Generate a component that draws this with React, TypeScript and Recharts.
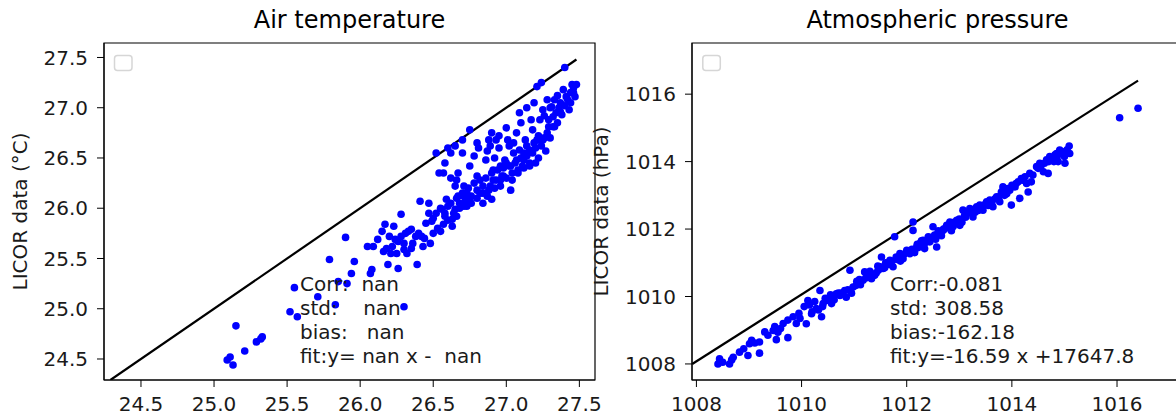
import { ReferenceArea, ReferenceLine, Scatter, ScatterChart, XAxis, YAxis } from 'recharts'

// air temperature: reference (x) vs LICOR (y), °C
const airRef = [
  25.09, 25.11, 25.13, 25.15, 25.21, 25.29, 25.32, 25.33, 25.52, 25.57, 25.55, 25.71, 25.83, 25.79, 25.85,
  25.91, 25.96, 25.94, 25.90, 26.05, 26.09, 26.07, 26.08, 26.12, 26.15, 26.17, 26.23, 26.16, 26.19, 26.26,
  26.28, 26.30, 26.39, 26.41, 26.47, 26.43, 26.48, 26.52, 26.54, 26.22, 26.24, 26.26, 26.28, 26.31, 26.33,
  26.35, 26.38, 26.21, 26.25, 26.30, 26.32, 26.35, 26.42, 26.49, 26.52, 26.56, 26.58, 26.60, 26.63, 26.65,
  26.50, 26.55, 26.57, 26.63, 26.66, 26.68, 26.71, 26.73, 26.75, 26.66, 26.65, 26.67, 26.71, 26.75, 26.78,
  26.80, 26.80, 26.81, 26.82, 26.84, 26.86, 26.87, 26.88, 26.89, 26.90, 26.91, 26.92, 26.93, 26.95, 26.96,
  26.97, 26.98, 26.99, 27.00, 27.01, 27.03, 27.04, 27.05, 27.07, 27.08, 27.09, 27.11, 27.12, 27.13, 27.14,
  27.15, 27.16, 27.17, 27.19, 27.20, 27.21, 27.22, 27.23, 27.24, 27.25, 27.27, 27.28, 27.29, 27.30, 27.31,
  27.32, 27.33, 27.35, 27.36, 27.37, 27.38, 27.39, 27.40, 27.41, 27.43, 27.44, 27.45, 27.46, 27.47, 27.48,
  27.37, 27.33, 27.29, 27.25, 27.21, 27.16, 27.12, 27.07, 27.03, 26.98, 26.93, 26.89, 26.87, 26.84, 27.00,
  27.05, 27.09, 27.14, 27.19, 27.23, 27.28, 27.32, 26.91, 26.96, 26.80, 26.76, 26.73, 26.71, 26.67, 26.59,
  26.75, 26.70, 26.62, 26.57,
  26.45, 26.47, 26.50, 26.53, 26.55, 26.58, 26.60, 26.62, 26.64, 26.66, 26.68, 26.70, 26.72, 26.74, 26.76,
  26.78, 26.80, 26.82, 26.84, 26.86, 26.88, 26.90, 26.92, 26.94, 26.96, 26.98, 27.00, 27.02, 27.04, 27.06,
  27.08, 27.10, 27.12, 27.14, 27.16, 27.18, 27.20, 27.22, 27.24, 27.26, 26.60, 26.65, 26.70, 26.58, 26.62,
  26.90, 26.95, 27.02, 27.10, 27.18, 27.26, 27.34, 27.40, 27.42, 27.44, 27.46, 27.35, 27.30, 26.40, 26.44,
  26.36, 26.30, 26.20, 26.18,
]
const airLicor = [
  24.49, 24.52, 24.44, 24.83, 24.58, 24.67, 24.70, 24.72, 24.97, 24.92, 25.21, 25.12, 25.04, 25.49, 25.27,
  25.25, 25.47, 25.35, 25.71, 25.62, 25.62, 25.35, 25.39, 25.69, 25.77, 25.84, 25.82, 25.57, 25.44, 25.40,
  25.94, 25.02, 25.44, 26.07, 26.05, 25.62, 25.65, 26.55, 26.35, 25.62, 25.69, 25.67, 25.72, 25.75, 25.77,
  25.79, 25.72, 25.55, 25.55, 25.59, 25.55, 25.60, 25.72, 25.87, 25.95, 25.99, 25.92, 26.02, 25.89, 25.99,
  25.75, 25.77, 25.84, 25.82, 25.92, 26.05, 26.12, 26.02, 26.09, 26.28, 26.22, 26.35, 26.22, 26.42, 26.52,
  26.32, 26.65, 26.60, 26.15, 26.22, 26.48, 26.57, 26.68, 26.62, 26.09, 26.28, 26.50, 26.68, 26.72, 26.22,
  26.32, 26.42, 26.48, 26.80, 26.68, 26.18, 26.28, 26.65, 26.75, 26.35, 26.95, 26.42, 26.48, 26.68, 27.00,
  26.55, 26.42, 26.88, 27.05, 26.45, 27.21, 26.72, 26.88, 27.25, 26.98, 26.57, 27.08, 26.81, 26.70, 27.01,
  26.91, 27.08, 26.85, 27.00, 27.05, 26.93, 27.18, 27.40, 27.11, 26.98, 27.15, 27.23, 27.20, 27.11, 27.23,
  26.96, 26.81, 26.88, 26.68, 26.68, 26.58, 26.55, 26.48, 26.42, 26.32, 26.28, 26.22, 26.12, 26.05, 26.45,
  26.55, 26.58, 26.62, 26.65, 26.68, 26.75, 26.81, 26.38, 26.42, 26.18, 26.12, 26.15, 26.02, 26.12, 26.09,
  26.78, 26.55, 26.30, 26.35,
  25.85, 25.95, 25.90, 25.80, 26.00, 25.95, 25.88, 26.05, 25.95, 26.10, 26.00, 26.15, 26.08, 26.20, 26.05,
  26.25, 26.10, 26.28, 26.15, 26.30, 26.18, 26.35, 26.20, 26.38, 26.28, 26.40, 26.30, 26.42, 26.35, 26.45,
  26.38, 26.50, 26.40, 26.52, 26.45, 26.55, 26.60, 26.50, 26.62, 26.70, 26.60, 26.62, 26.68, 26.45, 26.55,
  26.75, 26.60, 26.62, 26.85, 26.78, 26.92, 26.95, 27.02, 27.08, 27.05, 27.15, 27.12, 27.00, 25.75, 25.70,
  25.65, 25.65, 25.72, 25.60,
]

// atmospheric pressure: reference (x) vs LICOR (y), hPa
const presRef = [
  1008.41, 1008.44, 1008.63, 1008.67, 1008.82, 1008.98, 1009.01, 1009.11, 1009.20, 1009.20, 1009.36, 1009.49,
  1009.52, 1009.46, 1009.55, 1009.74, 1009.74, 1009.84, 1009.97, 1010.09, 1010.12, 1010.19, 1010.28, 1010.35,
  1010.38, 1010.41, 1010.47, 1010.57, 1010.60, 1010.66, 1010.73, 1010.82, 1010.85, 1010.92, 1010.98, 1011.04,
  1011.17, 1011.20, 1011.27, 1011.33, 1011.39, 1011.46, 1011.52, 1011.55, 1011.61, 1011.68, 1011.74, 1011.77,
  1011.80, 1011.87, 1011.93, 1012.00, 1012.06, 1012.12, 1012.12, 1012.19, 1012.25, 1012.31, 1012.34, 1012.41,
  1012.44, 1012.50, 1012.53, 1012.57, 1012.63, 1012.69, 1012.76, 1012.82, 1012.88, 1012.95, 1013.01, 1013.07,
  1013.14, 1013.20, 1013.26, 1013.33, 1013.39, 1013.45, 1013.52, 1013.58, 1013.64, 1013.71, 1013.77, 1013.83,
  1013.90, 1013.96, 1013.99, 1014.06, 1014.12, 1014.15, 1014.21, 1014.28, 1014.31, 1014.34, 1014.37, 1014.47,
  1014.53, 1014.60, 1014.66, 1014.69, 1014.72, 1014.78, 1014.85, 1014.88, 1014.91, 1014.98, 1015.01, 1015.04,
  1015.09, 1015.10, 1016.05, 1016.40, 1011.10, 1011.30, 1011.60, 1011.90, 1012.20, 1012.60, 1012.90, 1013.30,
  1013.60, 1013.90, 1014.40, 1014.80, 1015.00, 1010.50, 1010.20, 1010.70, 1009.90, 1011.45, 1012.70, 1013.10,
  1010.05, 1010.15, 1010.25, 1010.32, 1010.45, 1010.55, 1010.62, 1010.75, 1010.88, 1010.95, 1011.05, 1011.12,
  1011.22, 1011.35, 1011.42, 1011.50, 1011.58, 1011.65, 1011.72, 1011.82, 1011.88, 1011.95, 1012.02, 1012.10,
  1012.15, 1012.22, 1012.28, 1012.36, 1012.45, 1012.55, 1012.60, 1012.66, 1012.72, 1012.80, 1012.85, 1012.92,
  1013.00, 1013.05, 1013.12, 1013.18, 1013.25, 1013.30, 1013.36, 1013.42, 1013.50, 1013.55, 1013.62, 1013.68,
  1013.75, 1013.80, 1013.86, 1013.92, 1014.00, 1014.08, 1014.18, 1014.25, 1014.50, 1014.55, 1014.62, 1014.70,
  1014.75, 1014.82, 1014.86, 1014.95, 1015.05, 1009.60, 1009.65, 1009.95, 1010.40, 1009.30, 1009.05, 1008.90,
  1008.50, 1008.70,
]
const presLicor = [
  1008.00, 1008.15, 1008.00, 1008.12, 1008.35, 1008.25, 1008.60, 1008.62, 1008.65, 1008.32, 1008.85, 1009.11,
  1008.72, 1008.99, 1008.94, 1008.78, 1009.30, 1009.40, 1009.35, 1009.19, 1009.88, 1009.49, 1009.64, 1010.18,
  1009.40, 1009.79, 1009.88, 1009.79, 1009.98, 1010.08, 1010.03, 1010.18, 1009.98, 1010.78, 1010.28, 1010.33,
  1010.48, 1010.73, 1010.68, 1010.53, 1010.63, 1010.78, 1011.17, 1010.83, 1010.98, 1011.07, 1010.88, 1011.77,
  1011.17, 1011.27, 1011.12, 1011.37, 1011.27, 1012.21, 1011.96, 1011.47, 1011.57, 1011.67, 1011.42, 1011.77,
  1011.62, 1012.07, 1011.82, 1011.47, 1011.87, 1011.96, 1012.11, 1012.21, 1012.07, 1012.26, 1012.11, 1012.56,
  1012.46, 1012.61, 1012.36, 1012.66, 1012.71, 1012.56, 1012.81, 1012.86, 1012.66, 1012.96, 1012.81, 1013.25,
  1013.06, 1013.15, 1012.71, 1013.25, 1013.40, 1012.91, 1013.45, 1013.35, 1013.10, 1013.65, 1013.40, 1013.85,
  1013.95, 1013.70, 1014.05, 1013.65, 1014.15, 1014.10, 1014.24, 1014.00, 1014.34, 1014.20, 1013.95, 1014.29,
  1014.46, 1014.24, 1015.30, 1015.58, 1010.50, 1010.75, 1011.00, 1011.20, 1011.55, 1011.90, 1012.20, 1012.50,
  1012.75, 1013.05, 1013.60, 1014.00, 1014.15, 1009.90, 1009.55, 1010.10, 1009.20, 1010.90, 1012.00, 1012.40,
  1009.70, 1009.75, 1009.85, 1009.60, 1009.95, 1010.05, 1009.90, 1010.10, 1010.20, 1010.10, 1010.45, 1010.35,
  1010.55, 1010.60, 1010.70, 1010.88, 1010.85, 1010.95, 1011.05, 1011.10, 1011.05, 1011.25, 1011.35, 1011.40,
  1011.30, 1011.45, 1011.65, 1011.60, 1011.75, 1011.70, 1011.95, 1011.80, 1012.00, 1012.05, 1011.95, 1012.15,
  1012.30, 1012.20, 1012.35, 1012.50, 1012.45, 1012.60, 1012.55, 1012.65, 1012.75, 1012.70, 1012.80, 1012.90,
  1012.95, 1013.10, 1013.00, 1013.20, 1013.30, 1013.35, 1013.50, 1013.55, 1013.80, 1013.85, 1013.95, 1014.00,
  1014.05, 1014.20, 1014.15, 1014.30, 1014.35, 1009.05, 1009.20, 1009.50, 1009.70, 1008.95, 1008.70, 1008.45,
  1008.05, 1008.20,
]

const airTicks = [24.5, 25, 25.5, 26, 26.5, 27, 27.5]
const presTicks = [1008, 1010, 1012, 1014, 1016]

// 1:1 reference line end points
const airLine = [24.291, 27.48]
const presLine = [1007.92, 1008.0, 1016.4, 1016.4]

const FONT = 'DejaVu Sans'
const tickStyle = { fontSize: 20, fill: '#1a1a1a', fontFamily: FONT }

const Dot = (p: any) => <circle cx={p.cx} cy={p.cy} r={3.8} fill="#0000ff" />

function Panel(props: {
  left: number; width: number; margin: any
  xs: number[]; ys: number[]; xDomain: number[]; yDomain: number[]
  xTicks: number[]; yTicks: number[]; fmt: (v: number) => string
  line: { x: number; y: number }[]
}) {
  const data = props.xs.map((x, i) => ({ x, y: props.ys[i] }))
  return (
    <div style={{ position: 'absolute', left: props.left, top: 0 }}>
      <ScatterChart width={props.width} height={416} margin={props.margin}>
        <XAxis type="number" dataKey="x" domain={props.xDomain} ticks={props.xTicks} interval={0}
          allowDataOverflow tickFormatter={props.fmt} tick={tickStyle} tickSize={7} tickMargin={10}
          height={30} stroke="#000" tickLine={{ stroke: '#000' }} />
        <YAxis type="number" dataKey="y" domain={props.yDomain} ticks={props.yTicks} interval={0}
          allowDataOverflow tickFormatter={props.fmt} tick={tickStyle} tickSize={7} tickMargin={9}
          width={60} stroke="#000" tickLine={{ stroke: '#000' }} />
        <ReferenceArea x1={props.xDomain[0]} x2={props.xDomain[1]} y1={props.yDomain[0]} y2={props.yDomain[1]}
          fill="none" stroke="#000" strokeWidth={1.2} fillOpacity={0} />
        <ReferenceLine segment={props.line} stroke="#000" strokeWidth={2.2} ifOverflow="hidden" />
        <Scatter data={data} shape={Dot} isAnimationActive={false} />
      </ScatterChart>
    </div>
  )
}

export default function App() {
  const textLines = (x: number, lines: string[]) => (
    <text x={x} y={290.7} fontSize={20} fill="#1a1a1a" fontFamily={FONT} style={{ whiteSpace: 'pre' }}>
      {lines.map((l, i) => (
        <tspan key={i} x={x} dy={i === 0 ? 0 : 24} xmlSpace="preserve">{l}</tspan>
      ))}
    </text>
  )
  return (
    <div style={{ position: 'absolute', left: 0, top: 0, width: 1176, height: 416, overflow: 'hidden', background: '#fff', fontFamily: FONT }}>
      <Panel left={0} width={620} margin={{ top: 43, right: 25, bottom: 6, left: 44 }}
        xs={airRef} ys={airLicor} xDomain={[24.247, 27.607]} yDomain={[24.291, 27.644]}
        xTicks={airTicks} yTicks={airTicks} fmt={(v) => v.toFixed(1)}
        line={[{ x: airLine[0], y: airLine[0] }, { x: airLine[1], y: airLine[1] }]} />
      <Panel left={590} width={610} margin={{ top: 43, right: 17, bottom: 6, left: 42 }}
        xs={presRef} ys={presLicor} xDomain={[1007.916, 1017.255]} yDomain={[1007.524, 1017.517]}
        xTicks={presTicks} yTicks={presTicks} fmt={(v) => String(Math.round(v))}
        line={[{ x: presLine[0], y: presLine[1] }, { x: presLine[2], y: presLine[3] }]} />
      <svg width={1176} height={416} style={{ position: 'absolute', left: 0, top: 0, pointerEvents: 'none' }}>
        <text x={349.5} y={28} textAnchor="middle" fontSize={24} fill="#000" fontFamily={FONT}>Air temperature</text>
        <text x={937.5} y={28} textAnchor="middle" fontSize={24} fill="#000" fontFamily={FONT}>Atmospheric pressure</text>
        <text transform="translate(27,211.5) rotate(-90)" textAnchor="middle" fontSize={20} fill="#1a1a1a" fontFamily={FONT}>LICOR data (°C)</text>
        <text transform="translate(608,211.5) rotate(-90)" textAnchor="middle" fontSize={20} fill="#1a1a1a" fontFamily={FONT}>LICOR data (hPa)</text>
        <rect x={114.5} y={55.5} width={17.5} height={15} rx={3} fill="#fff" stroke="#d6d6d6" strokeWidth={1.5} />
        <rect x={702.8} y={55.5} width={17.5} height={15} rx={3} fill="#fff" stroke="#d6d6d6" strokeWidth={1.5} />
        {textLines(300, ['Corr:  nan', 'std:    nan', 'bias:   nan', 'fit:y= nan x -  nan'])}
        {textLines(890, ['Corr:-0.081', 'std: 308.58', 'bias:-162.18', 'fit:y=-16.59 x +17647.8'])}
      </svg>
    </div>
  )
}
